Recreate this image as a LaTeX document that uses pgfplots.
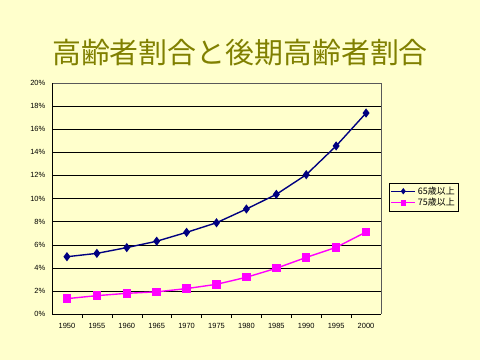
\documentclass[border=0pt]{standalone}
\usepackage{pgfplots}
\pgfplotsset{compat=1.18}
\usepackage{fontspec}
\setmainfont{Liberation Sans}
\newfontfamily\cjk{Noto Sans CJK JP}
\definecolor{bg}{HTML}{FFFFCC}
\definecolor{olivet}{HTML}{808000}
\definecolor{navyb}{HTML}{000080}
\definecolor{mag}{HTML}{FF00FF}
\begin{document}
\begin{tikzpicture}[x=1bp,y=1bp]
\fill[bg] (0,0) rectangle (480,360);
\node[text=olivet,font=\cjk\fontsize{29}{32}\selectfont] at (240,307) {高齢者割合と後期高齢者割合};
\begin{axis}[
  at={(52bp,46bp)}, anchor=south west,
  scale only axis, width=329bp, height=231bp,
  xmin=-0.5, xmax=10.5, ymin=0, ymax=20,
  xtick={0,...,10},
  xticklabels={1950,1955,1960,1965,1970,1975,1980,1985,1990,1995,2000},
  minor xtick={0.5,1.5,...,9.5},
  major x tick style={draw=none},
  minor x tick style={black,thin},
  minor tick length=4bp,
  xtick pos=bottom, ytick pos=left, tick align=outside,
  ytick={0,2,...,20},
  yticklabel={\pgfmathprintnumber{\tick}\%},
  major y tick style={draw=none},
  ymajorgrids, grid style={black,thin},
  axis line style={draw=none},
  tick label style={font=\fontsize{7.5}{8}\selectfont},
  /pgf/number format/assume math mode=true,
  yticklabel style={xshift=1bp},
  xticklabel style={yshift=-2bp},
  legend style={at={(1.024,0.567)}, anchor=north west, draw=black, fill=bg,
    font=\cjk\fontsize{9}{10}\selectfont, inner sep=1.5pt, row sep=-1.5pt,
    legend cell align=left},
  legend image code/.code={\draw[#1] (0bp,0bp) -- (24bp,0bp); \draw[#1,mark repeat=2,mark phase=2,mark options={scale=0.6}] plot coordinates {(0bp,0bp) (12bp,0bp) (24bp,0bp)};},
  clip=false,
]
\draw[gray!70!black] (axis cs:-0.5,20) -- (axis cs:10.5,20) -- (axis cs:10.5,0);
\draw[black,thin] (axis cs:-0.5,20) -- (axis cs:-0.5,0) -- (axis cs:10.5,0);
\addplot[navyb, line width=1.4pt, mark=diamond*, mark size=3.5bp, mark options={solid}]
 coordinates {(0,4.96) (1,5.25) (2,5.75) (3,6.3) (4,7.07) (5,7.9) (6,9.09) (7,10.36) (8,12.06) (9,14.55) (10,17.4)};
\addlegendentry{65歳以上}
\addplot[mag, line width=1.4pt, mark=square*, mark size=3.5bp, mark options={solid}]
 coordinates {(0,1.33) (1,1.59) (2,1.79) (3,1.92) (4,2.2) (5,2.57) (6,3.18) (7,3.96) (8,4.9) (9,5.77) (10,7.1)};
\addlegendentry{75歳以上}
\end{axis}
\end{tikzpicture}
\end{document}
